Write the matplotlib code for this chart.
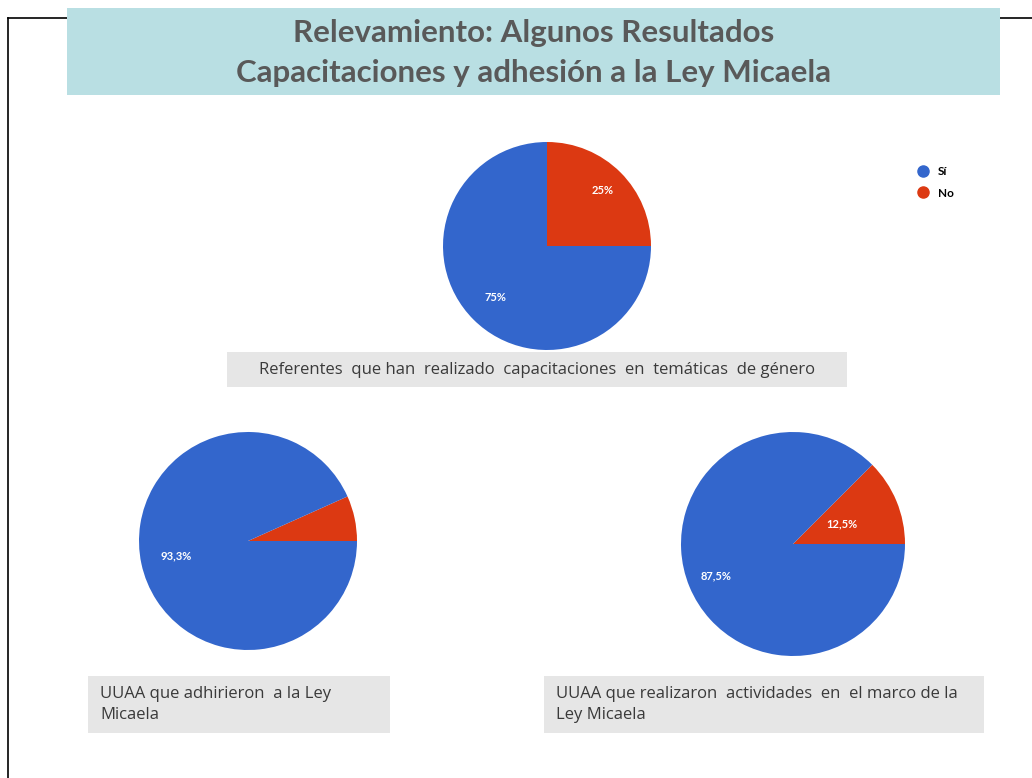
"""Relevamiento: pie charts de capacitaciones y adhesión a la Ley Micaela."""
import matplotlib

matplotlib.use("Agg")
import matplotlib.pyplot as plt
from matplotlib.lines import Line2D
from matplotlib.patches import Rectangle
import numpy as np

W, H = 1032, 778

BLUE = "#3366cc"
RED = "#dc3912"

categories = ["Sí", "No"]

# each pie: percentages of (Sí, No)
cap_values = [75.0, 25.0]
ley_values = [93.3, 6.7]
act_values = [87.5, 12.5]

cap_labels = ["75%", "25%"]
ley_labels = ["93,3%", ""]
act_labels = ["87,5%", "12,5%"]

title_lines = ["Relevamiento: Algunos Resultados", "Capacitaciones y adhesión a la Ley Micaela"]
caption_cap = "Referentes  que han  realizado  capacitaciones  en  temáticas  de género"
caption_ley = "UUAA que adhirieron  a la Ley\nMicaela"
caption_act = "UUAA que realizaron  actividades  en  el marco de la\nLey Micaela"


def px_axes(fig, x0, y0, x1, y1):
    """Axes from pixel box (top-left origin)."""
    return fig.add_axes([x0 / W, 1 - y1 / H, (x1 - x0) / W, (y1 - y0) / H])


def draw_pie(fig, cx, cy, r, values, labels, startangle, counterclock, dists):
    ax = px_axes(fig, cx - r, cy - r, cx + r, cy + r)
    # order: draw the "No" slice first so it starts at startangle
    wedges, _ = ax.pie(
        values[::-1],
        colors=[RED, BLUE],
        startangle=startangle,
        counterclock=counterclock,
        radius=1,
        wedgeprops=dict(linewidth=0),
    )
    for w, lab, d in zip(wedges, labels[::-1], dists[::-1]):
        if not lab:
            continue
        mid = np.deg2rad((w.theta1 + w.theta2) / 2)
        ax.text(d * np.cos(mid), d * np.sin(mid), lab, color="white",
                fontsize=8, fontweight="bold", ha="center", va="center",
                family="Lato")
    ax.set_xlim(-1, 1)
    ax.set_ylim(-1, 1)
    ax.set_aspect("equal")
    ax.set_axis_off()
    return ax


def caption_box(fig, x0, y0, x1, y1, text, ha, pad):
    ax = px_axes(fig, x0, y0, x1, y1)
    ax.set_xlim(0, 1)
    ax.set_ylim(0, 1)
    ax.add_patch(Rectangle((0, 0), 1, 1, color="#e6e6e6", lw=0))
    x = 0.5 if ha == "center" else pad / (x1 - x0)
    ax.text(x, 0.5, text, ha=ha, va="center", fontsize=12, color="#3a3a3a",
            family="Open Sans", linespacing=1.35)
    ax.set_axis_off()


fig = plt.figure(figsize=(W / 100, H / 100), dpi=100)

# frame lines of the slide
bg = fig.add_axes([0, 0, 1, 1])
bg.set_xlim(0, W)
bg.set_ylim(H, 0)
bg.set_axis_off()
bg.plot([8, 8], [18, H], color="black", lw=1.2)
bg.plot([8, W], [18, 18], color="black", lw=1.2)

# title banner
tax = px_axes(fig, 67, 8, 1000, 95)
tax.set_xlim(0, 1)
tax.set_ylim(0, 1)
tax.add_patch(Rectangle((0, 0), 1, 1, color="#b9dfe3", lw=0))
tax.text(0.5, 0.71, title_lines[0], ha="center", va="center", fontsize=22.5,
         fontweight="bold", color="#595959", family="Lato")
tax.text(0.5, 0.25, title_lines[1], ha="center", va="center", fontsize=22.5,
         fontweight="bold", color="#595959", family="Lato")
tax.set_axis_off()

# pies
draw_pie(fig, 547, 246, 104, cap_values, cap_labels, 90, False, [0.70, 0.76])
draw_pie(fig, 248, 541, 109, ley_values, ley_labels, 0, True, [0.67, 0.6])
draw_pie(fig, 793, 544, 112, act_values, act_labels, 0, True, [0.74, 0.47])

# legend
lax = px_axes(fig, 905, 160, 1000, 205)
handles = [Line2D([], [], marker="o", ls="", color=c, markersize=8)
           for c in [BLUE, RED]]
lax.legend(handles, categories, loc="upper left", frameon=False,
           handletextpad=0.3, borderpad=0, labelspacing=0.9,
           prop=dict(family="Lato", weight="bold", size=8.5))
lax.set_axis_off()

# captions
caption_box(fig, 227, 352, 847, 387, caption_cap, "center", 0)
caption_box(fig, 88, 676, 390, 733, caption_ley, "left", 12)
caption_box(fig, 544, 676, 984, 733, caption_act, "left", 12)

fig.savefig("out.png", dpi=100)
plt.close(fig)
